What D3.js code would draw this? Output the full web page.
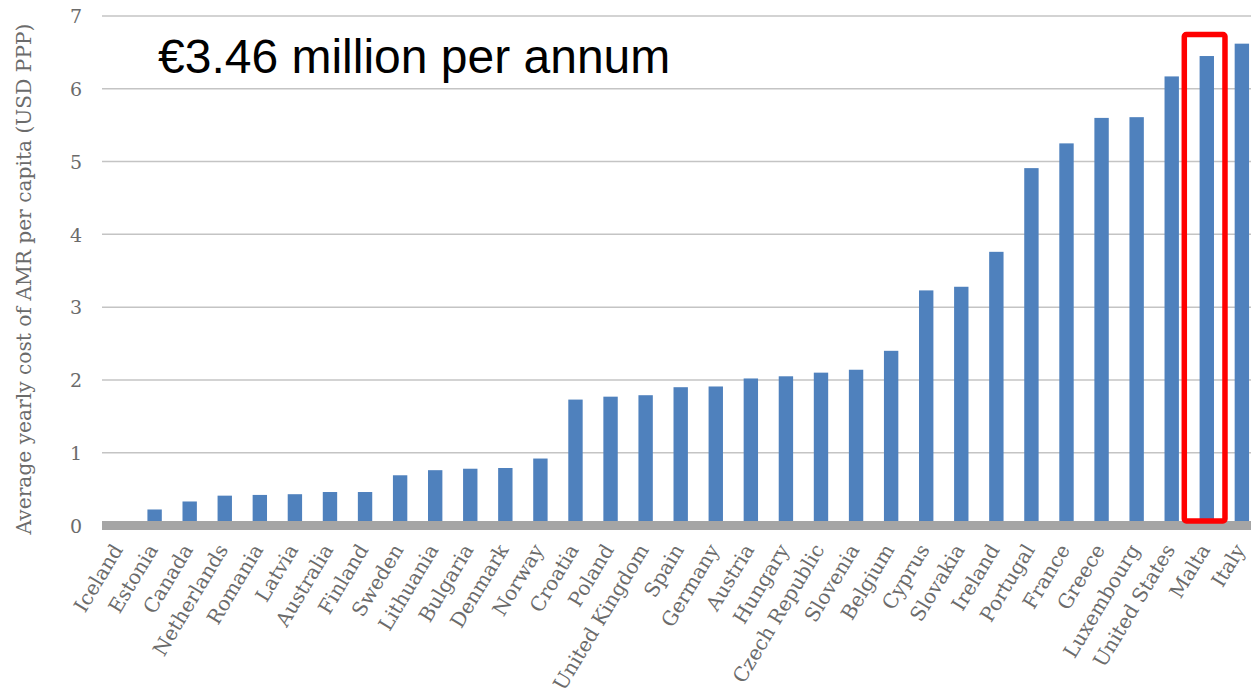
<!DOCTYPE html>
<html>
<head>
<meta charset="utf-8">
<script src="https://cdn.jsdelivr.net/npm/d3@7"></script>
<style>
  html, body { margin: 0; padding: 0; background: #fff; }
  svg { display: block; overflow: hidden; }
</style>
</head>
<body>
<svg id="chart" width="1251" height="697"></svg>
<script>
// Average yearly cost of AMR per capita, by country (USD PPP)
const countries = ["Iceland", "Estonia", "Canada", "Netherlands", "Romania", "Latvia",
  "Australia", "Finland", "Sweden", "Lithuania", "Bulgaria", "Denmark", "Norway",
  "Croatia", "Poland", "United Kingdom", "Spain", "Germany", "Austria", "Hungary",
  "Czech Republic", "Slovenia", "Belgium", "Cyprus", "Slovakia", "Ireland",
  "Portugal", "France", "Greece", "Luxembourg", "United States", "Malta", "Italy"];
const costPerCapita = [0, 0.22, 0.33, 0.41, 0.42, 0.43, 0.46, 0.46, 0.69, 0.76, 0.78,
  0.79, 0.92, 1.73, 1.77, 1.79, 1.90, 1.91, 2.02, 2.05, 2.10, 2.14, 2.40, 3.23,
  3.28, 3.76, 4.91, 5.25, 5.60, 5.61, 6.17, 6.45, 6.62];
const yTicks = [0, 1, 2, 3, 4, 5, 6, 7];
const highlighted = "Malta";
const headline = "€3.46 million per annum";
const yTitle = "Average yearly cost of AMR per capita (USD PPP)";

const data = countries.map((c, i) => ({ country: c, value: costPerCapita[i] }));

const svg = d3.select("#chart");
const plotLeft = 102, plotRight = 1259.4, plotTop = 16, plotBottom = 525.5;

const x = d3.scaleBand().domain(countries).range([plotLeft, plotRight])
  .paddingInner(0.59).paddingOuter(0.295);
const y = d3.scaleLinear().domain([0, 7]).range([plotBottom, plotTop]);

const serif = "'DejaVu Serif', Georgia, serif";
const labelColor = "#6b6b6b";

// horizontal gridlines
svg.append("g")
  .selectAll("line")
  .data(yTicks.filter(t => t > 0))
  .join("line")
  .attr("x1", plotLeft).attr("x2", 1251)
  .attr("y1", d => y(d)).attr("y2", d => y(d))
  .attr("stroke", "#c4c4c4").attr("stroke-width", 1.5);

// y axis tick labels
const yAxis = d3.axisLeft(y).tickValues(yTicks).tickSize(0).tickPadding(0).tickFormat(d3.format("d"));
const yg = svg.append("g").attr("transform", "translate(76,0)").call(yAxis);
yg.select(".domain").remove();
yg.selectAll("text")
  .attr("font-family", serif).attr("font-size", 19).attr("fill", labelColor)
  .attr("text-anchor", "middle")
  .attr("dy", "0.36em");

// bars
svg.append("g")
  .selectAll("rect")
  .data(data)
  .join("rect")
  .attr("x", d => x(d.country))
  .attr("width", x.bandwidth())
  .attr("y", d => y(d.value))
  .attr("height", d => y(0) - y(d.value))
  .attr("fill", "#4f81bd");

// thick baseline
svg.append("line")
  .attr("x1", plotLeft).attr("x2", 1251)
  .attr("y1", y(0)).attr("y2", y(0))
  .attr("stroke", "#a5a5a5").attr("stroke-width", 9);

// category labels, rotated
const xAxis = d3.axisBottom(x).tickSize(0).tickPadding(0);
const xg = svg.append("g").attr("transform", `translate(0,${y(0) + 14})`).call(xAxis);
xg.select(".domain").remove();
xg.selectAll("text")
  .attr("font-family", serif).attr("font-size", 20).attr("fill", labelColor)
  .attr("text-anchor", "end")
  .attr("dy", "0")
  .attr("transform", "translate(4,10) rotate(-59)");

// y axis title
svg.append("text")
  .attr("transform", "translate(31,279) rotate(-90)")
  .attr("text-anchor", "middle")
  .attr("font-family", serif).attr("font-size", 20.2).attr("fill", labelColor)
  .text(yTitle);

// highlight box around Malta
const boxTop = y(7) + 18.5, boxBottom = y(0) - 4.5;
svg.append("rect")
  .attr("x", x(highlighted) - 15.3)
  .attr("y", boxTop)
  .attr("width", x.bandwidth() + 26.3)
  .attr("height", boxBottom - boxTop)
  .attr("rx", 2)
  .attr("fill", "none")
  .attr("stroke", "#ff0000")
  .attr("stroke-width", 5.5);

// headline annotation
svg.append("text")
  .attr("x", 158).attr("y", 73)
  .attr("font-family", "'Liberation Sans', Arial, sans-serif")
  .attr("font-size", 48).attr("fill", "#000")
  .text(headline);
</script>
</body>
</html>
